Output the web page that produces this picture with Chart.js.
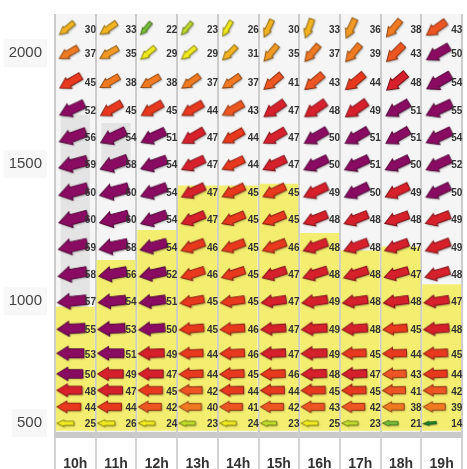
<!DOCTYPE html>
<html lang="fr">
<head>
<meta charset="UTF-8">
<title>Vent en altitude</title>
<script src="https://cdn.jsdelivr.net/npm/chart.js"></script>
<style>
    html, body { margin: 0; padding: 0; background: #ffffff; }
    #wrap { width: 467px; height: 469px; }
</style>
</head>
<body>
<div id="wrap"><canvas id="windChart"></canvas></div>
<script>
// heures
const hours = ['10h', '11h', '12h', '13h', '14h', '15h', '16h', '17h', '18h', '19h'];

// niveaux du modele (haut -> bas), en unites de niveau
const levels = [14.4, 13.5, 12.45, 11.45, 10.45, 9.45, 8.45, 7.45, 6.45, 5.45, 4.45, 3.45, 2.55, 1.8, 1.2, 0.6, 0];

// altitudes affichees et niveau correspondant
const altLabels = ['2000', '1500', '1000', '500'];
const altLabelRows = [1, 5, 10, 16];

// vitesse du vent (km/h), une ligne par niveau
const speeds = [
    [30, 33, 22, 23, 26, 30, 33, 36, 38, 43],
    [37, 35, 29, 29, 31, 35, 37, 39, 43, 50],
    [45, 38, 38, 37, 37, 41, 43, 44, 48, 54],
    [52, 45, 45, 44, 43, 47, 48, 49, 51, 55],
    [56, 54, 51, 47, 44, 47, 50, 51, 51, 54],
    [59, 58, 54, 47, 44, 47, 50, 51, 50, 52],
    [60, 60, 54, 47, 45, 45, 49, 50, 49, 50],
    [60, 60, 54, 47, 45, 45, 48, 48, 48, 49],
    [59, 58, 54, 46, 45, 46, 48, 48, 47, 49],
    [58, 56, 52, 46, 45, 47, 48, 48, 47, 48],
    [57, 54, 51, 45, 45, 47, 49, 48, 48, 47],
    [55, 53, 50, 45, 46, 47, 49, 48, 45, 48],
    [53, 51, 49, 44, 46, 47, 49, 45, 44, 45],
    [50, 49, 47, 44, 45, 46, 48, 47, 43, 44],
    [48, 47, 45, 42, 44, 44, 45, 45, 41, 42],
    [44, 44, 42, 40, 41, 42, 43, 42, 38, 39],
    [25, 26, 24, 23, 24, 23, 25, 23, 21, 14]
];

// direction d'ou vient le vent (degres)
const dirs = [
    [50, 55, 40, 40, 30, 25, 20, 25, 40, 55],
    [60, 60, 50, 50, 45, 40, 40, 40, 45, 60],
    [60, 60, 60, 55, 55, 50, 50, 50, 50, 60],
    [65, 60, 60, 60, 60, 55, 55, 55, 60, 65],
    [70, 65, 65, 60, 60, 60, 60, 60, 60, 65],
    [75, 70, 70, 65, 65, 65, 65, 65, 65, 65],
    [75, 75, 70, 65, 65, 65, 65, 65, 65, 65],
    [75, 75, 70, 68, 68, 68, 68, 68, 70, 70],
    [78, 78, 75, 70, 70, 70, 70, 70, 70, 70],
    [80, 80, 78, 72, 72, 72, 72, 72, 74, 74],
    [84, 84, 82, 80, 82, 82, 82, 82, 82, 82],
    [87, 87, 85, 85, 86, 86, 86, 86, 86, 86],
    [90, 90, 88, 88, 88, 88, 88, 88, 88, 88],
    [90, 90, 90, 88, 88, 88, 88, 88, 88, 88],
    [90, 90, 90, 89, 89, 89, 89, 89, 89, 89],
    [90, 90, 90, 90, 90, 90, 90, 90, 90, 90],
    [90, 90, 90, 90, 90, 90, 90, 90, 90, 85]
];

// sommet de la couche convective (unites de niveau)
const thermalTop = [4.25, 5.95, 7.05, 8.67, 8.67, 8.74, 6.94, 6.3, 6.45, 5.07];

// zones grisees (nuages)
const cloudBase = [4.45, 9.3, null, null, null, null, null, null, null, null];
const cloudTop = [11.25, 10.95, null, null, null, null, null, null, null, null];

// couleur selon la vitesse
function speedColor(s) {
    if (s < 17) return '#23902a';
    if (s < 23) return '#78bf38';
    if (s < 24) return '#c2dc2c';
    if (s < 30) return '#f0ea1e';
    if (s < 35) return '#f4b422';
    if (s < 37) return '#f29a24';
    if (s < 41) return '#f07a22';
    if (s < 44) return '#ed5622';
    if (s < 47) return '#e8381e';
    if (s < 50) return '#d6202b';
    return '#8a0c62';
}

function darker(hex, f) {
    const n = parseInt(hex.slice(1), 16);
    const r = Math.round(((n >> 16) & 255) * f);
    const g = Math.round(((n >> 8) & 255) * f);
    const b = Math.round((n & 255) * f);
    return 'rgb(' + r + ',' + g + ',' + b + ')';
}

// dessin d'une fleche (image utilisee comme pointStyle)
function arrowImage(s, dir) {
    const c = document.createElement('canvas');
    c.width = 44;
    c.height = 36;
    const g = c.getContext('2d');
    const L = 8 + 0.36 * s;
    const W = 0.27 * s;
    const bw = W * 0.62;
    const hl = L * 0.42;
    const a = (dir + 90) * Math.PI / 180;
    const hb = (Math.abs(Math.cos(a)) * L + Math.abs(Math.sin(a)) * W) / 2;
    g.translate(3.5 + hb, 18);
    g.rotate(a);
    g.beginPath();
    g.moveTo(-L / 2, -bw / 2);
    g.lineTo(L / 2 - hl, -bw / 2);
    g.lineTo(L / 2 - hl, -W / 2);
    g.lineTo(L / 2, 0);
    g.lineTo(L / 2 - hl, W / 2);
    g.lineTo(L / 2 - hl, bw / 2);
    g.lineTo(-L / 2, bw / 2);
    g.closePath();
    const col = speedColor(s);
    g.shadowColor = 'rgba(0,0,0,0.35)';
    g.shadowBlur = 2;
    g.shadowOffsetX = 1;
    g.shadowOffsetY = 1;
    g.fillStyle = col;
    g.fill();
    g.shadowColor = 'transparent';
    g.lineWidth = 1;
    g.strokeStyle = darker(col, 0.6);
    g.stroke();
    return c;
}

// points: un par case
const points = [];
levels.forEach((lv, r) => {
    hours.forEach((h, c) => {
        points.push({ x: h, y: lv, s: speeds[r][c], d: dirs[r][c] });
    });
});
const arrowImgs = points.map(p => arrowImage(p.s, p.d));

// fond des colonnes + bande grise du sol
const backgroundPlugin = {
    id: 'background',
    beforeDraw(chart) {
        const { ctx, chartArea, scales } = chart;
        ctx.save();
        ctx.fillStyle = '#ffffff';
        ctx.fillRect(0, 0, chart.width, chart.height);
        ctx.fillStyle = '#f5f5f5';
        ctx.fillRect(chartArea.left, chartArea.top, chartArea.right - chartArea.left, chartArea.bottom - chartArea.top);
        const y1 = scales.y.getPixelForValue(-0.32);
        ctx.fillStyle = '#c9c9c9';
        ctx.fillRect(chartArea.left, y1, chartArea.right - chartArea.left, chartArea.bottom - y1);
        ctx.restore();
    }
};

// valeurs a droite des fleches
const speedLabels = {
    id: 'speedLabels',
    afterDatasetsDraw(chart) {
        const ctx = chart.ctx;
        const meta = chart.getDatasetMeta(2);
        ctx.save();
        ctx.font = 'bold 10px "Liberation Sans", Arial, sans-serif';
        ctx.fillStyle = '#333333';
        ctx.textAlign = 'left';
        ctx.textBaseline = 'middle';
        meta.data.forEach((el, i) => {
            ctx.fillText(String(points[i].s), el.x + 9.5, el.y + 1.5);
        });
        ctx.restore();
    }
};

new Chart(document.getElementById('windChart'), {
    type: 'bar',
    data: {
        labels: hours,
        datasets: [
            {
                label: 'Couche convective',
                data: thermalTop.map(t => [-0.28, t]),
                backgroundColor: '#f4ee70',
                barPercentage: 1,
                categoryPercentage: 0.955,
                grouped: false,
                order: 3
            },
            {
                label: 'Nuages',
                data: cloudBase.map((b, i) => b === null ? null : [b, cloudTop[i]]),
                backgroundColor: '#e4e4e4',
                barPercentage: 0.72,
                categoryPercentage: 1,
                grouped: false,
                order: 2
            },
            {
                type: 'line',
                label: 'Vent',
                data: points,
                showLine: false,
                pointRadius: 3,
                pointStyle: ctx => arrowImgs[ctx.dataIndex],
                order: 0
            }
        ]
    },
    options: {
        responsive: true,
        maintainAspectRatio: false,
        animation: false,
        events: [],
        layout: { padding: { top: 8, left: 0, right: 0, bottom: 0 } },
        plugins: {
            legend: { display: false },
            tooltip: { enabled: false }
        },
        scales: {
            x: {
                type: 'category',
                offset: true,
                grid: {
                    offset: true,
                    color: '#cccccc',
                    lineWidth: 2,
                    drawTicks: true,
                    tickLength: 31,
                    tickColor: '#d4d4d4'
                },
                border: { display: false },
                ticks: {
                    color: '#333333',
                    font: { family: '"Liberation Sans", Arial, sans-serif', size: 14, weight: 'bold' },
                    padding: -13
                },
                afterFit: s => { s.height = 31; }
            },
            y: {
                type: 'linear',
                min: -0.54,
                max: 14.93,
                grid: { display: false },
                border: { display: false },
                ticks: {
                    color: '#444444',
                    font: { family: '"Liberation Sans", Arial, sans-serif', size: 15 },
                    padding: 5,
                    showLabelBackdrop: true,
                    backdropColor: '#f7f7f7',
                    backdropPadding: { x: 5, y: 5 },
                    callback: (v, i) => altLabels[i]
                },
                afterBuildTicks: scale => {
                    scale.ticks = altLabelRows.map(r => ({ value: levels[r] }));
                },
                afterFit: s => { s.width = 55; }
            }
        }
    },
    plugins: [backgroundPlugin, speedLabels]
});
</script>
</body>
</html>
